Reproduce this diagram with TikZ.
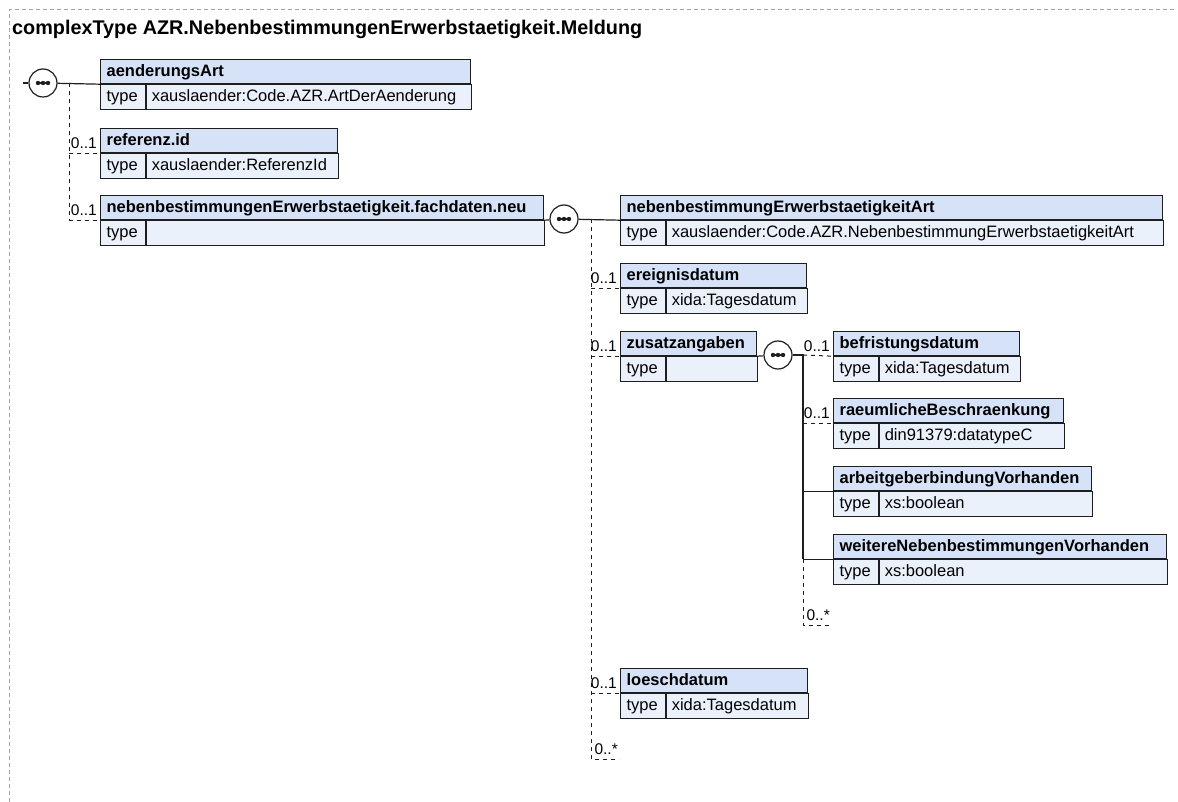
\documentclass[tikz,border=0pt]{standalone}
\usepackage{fontspec}
\setmainfont{Liberation Sans}
\usetikzlibrary{positioning}
\definecolor{hdrblue}{RGB}{214,226,247}
\definecolor{rowblue}{RGB}{235,241,251}
\definecolor{edge}{RGB}{30,30,30}
\definecolor{framegray}{RGB}{165,165,165}

\begin{document}
\begin{tikzpicture}[x=1pt, y=-1pt,
  box/.style={draw=edge, line width=1.2pt, anchor=north west, inner ysep=0pt,
    text height=12.5pt, text depth=3.5pt, align=left},
  hdr/.style={box, fill=hdrblue, minimum height=24pt, inner xsep=6pt,
    font=\fontsize{16.5}{18}\selectfont\bfseries},
  typ/.style={box, fill=rowblue, minimum height=25pt, inner xsep=6pt, text width=33pt,
    font=\fontsize{16.5}{18}\selectfont},
  val/.style={box, fill=rowblue, minimum height=25pt, inner xsep=5pt,
    font=\fontsize{16.5}{18}\selectfont},
  conn/.style={draw=edge, line width=1.2pt},
  opt/.style={draw=edge, line width=1pt, dash pattern=on 4pt off 4pt},
  mult/.style={anchor=south east, inner sep=1pt, font=\fontsize{15.5}{17}\selectfont},
  seq/.style={circle, draw=edge, line width=1.2pt, fill=white, minimum size=28pt, inner sep=0pt,
    path picture={
      \draw[edge, line width=1.3pt] ([xshift=-5pt]path picture bounding box.center)
        -- ([xshift=5pt]path picture bounding box.center);
      \fill[edge] ([xshift=-5pt]path picture bounding box.center) circle (2.2pt)
        (path picture bounding box.center) circle (2.2pt)
        ([xshift=5pt]path picture bounding box.center) circle (2.2pt);
    }}]
  \useasboundingbox (0,0) rectangle (1178,802);
  % frame and title
  \draw[framegray, line width=1pt, dash pattern=on 4pt off 3pt] (9,802) -- (9,10) -- (1176,10);
  \node[anchor=base west, inner sep=0pt, font=\fontsize{19.8}{22}\selectfont\bfseries] (ttl) at (12,35)
    {complexType AZR.NebenbestimmungenErwerbstaetigkeit.Meldung};

  % first level
  \node[hdr, text width=358pt] (aend) at (100,59) {aenderungsArt};
  \node[typ] (aend-t) at (aend.south west) {type};
  \node[val, text width=315pt] (aend-v) at (aend-t.north east) {xauslaender:Code.AZR.ArtDerAenderung};
  \node[hdr, text width=225pt] (refid) at (100,128) {referenz.id};
  \node[typ] (refid-t) at (refid.south west) {type};
  \node[val, text width=182pt] (refid-v) at (refid-t.north east) {xauslaender:ReferenzId};
  \node[hdr, text width=431pt] (fach) at (100,195) {nebenbestimmungenErwerbstaetigkeit.fachdaten.neu};
  \node[typ] (fach-t) at (fach.south west) {type};
  \node[val, text width=388pt] (fach-v) at (fach-t.north east) {};

  % second level (fachdaten.neu)
  \node[hdr, text width=530pt] (nbart) at (620,195) {nebenbestimmungErwerbstaetigkeitArt};
  \node[typ] (nbart-t) at (nbart.south west) {type};
  \node[val, text width=487pt] (nbart-v) at (nbart-t.north east) {xauslaender:Code.AZR.NebenbestimmungErwerbstaetigkeitArt};
  \node[hdr, text width=174pt] (ereig) at (620,263) {ereignisdatum};
  \node[typ] (ereig-t) at (ereig.south west) {type};
  \node[val, text width=131pt] (ereig-v) at (ereig-t.north east) {xida:Tagesdatum};
  \node[hdr, text width=124pt] (zus) at (620,331) {zusatzangaben};
  \node[typ] (zus-t) at (zus.south west) {type};
  \node[val, text width=81pt] (zus-v) at (zus-t.north east) {};
  \node[hdr, text width=175pt] (loesch) at (620,668) {loeschdatum};
  \node[typ] (loesch-t) at (loesch.south west) {type};
  \node[val, text width=132pt] (loesch-v) at (loesch-t.north east) {xida:Tagesdatum};

  % third level (zusatzangaben)
  \node[hdr, text width=174pt] (befr) at (833,331) {befristungsdatum};
  \node[typ] (befr-t) at (befr.south west) {type};
  \node[val, text width=131pt] (befr-v) at (befr-t.north east) {xida:Tagesdatum};
  \node[hdr, text width=218pt] (raeum) at (833,398) {raeumlicheBeschraenkung};
  \node[typ] (raeum-t) at (raeum.south west) {type};
  \node[val, text width=175pt] (raeum-v) at (raeum-t.north east) {din91379:datatypeC};
  \node[hdr, text width=246pt] (arbeit) at (833,466) {arbeitgeberbindungVorhanden};
  \node[typ] (arbeit-t) at (arbeit.south west) {type};
  \node[val, text width=203pt] (arbeit-v) at (arbeit-t.north east) {xs:boolean};
  \node[hdr, text width=321pt] (weit) at (833,534) {weitereNebenbestimmungenVorhanden};
  \node[typ] (weit-t) at (weit.south west) {type};
  \node[val, text width=278pt] (weit-v) at (weit-t.north east) {xs:boolean};

  % sequence 1
  \coordinate (in1) at (23,83);
  \node[seq] (s1) at (43,83) {};
  \draw[conn] (in1) -- (s1);
  \draw[conn] (s1) -- (aend.south west);
  \coordinate (b1) at (69,83);
  \draw[opt] (b1) -- (b1 |- fach.south west);
  \draw[opt] (b1 |- refid.south west) -- (refid.south west);
  \draw[opt] (b1 |- fach.south west) -- (fach.south west);
  \node[mult] (m-refid) at ([shift={(-2,-3)}]refid.south west) {0..1};
  \node[mult] (m-fach) at ([shift={(-2,-3)}]fach.south west) {0..1};

  % sequence 2
  \node[seq] (s2) at (564,219) {};
  \draw[conn] (fach.south east) -- (s2);
  \draw[conn] (s2) -- (nbart.south west);
  \coordinate (b2) at (591,219);
  \coordinate (e2) at (591,759);
  \coordinate (e2r) at (619,759);
  \draw[opt] (b2) -- (e2) -- (e2r);
  \draw[opt] (b2 |- ereig.south west) -- (ereig.south west);
  \draw[opt] (b2 |- zus.south west) -- (zus.south west);
  \draw[opt] (b2 |- loesch.south west) -- (loesch.south west);
  \node[mult] (m-ereig) at ([shift={(-2,-3)}]ereig.south west) {0..1};
  \node[mult] (m-zus) at ([shift={(-2,-3)}]zus.south west) {0..1};
  \node[mult] (m-loesch) at ([shift={(-2,-3)}]loesch.south west) {0..1};
  \node[mult] (m-e2) at ([shift={(0,-3)}]e2r) {0..*};

  % sequence 3
  \node[seq] (s3) at (778,355) {};
  \draw[conn] (zus.south east) -- (s3);
  \coordinate (j3) at (803,355);
  \coordinate (e3) at (803,625);
  \coordinate (e3r) at (831,625);
  \draw[conn] (s3) -- (j3) -- (j3 |- weit.south west);
  \draw[opt] (j3) -- (befr.south west);
  \draw[opt] (j3 |- raeum.south west) -- (raeum.south west);
  \draw[conn] (j3 |- arbeit.south west) -- (arbeit.south west);
  \draw[conn] (j3 |- weit.south west) -- (weit.south west);
  \draw[opt] (j3 |- weit.south west) -- (e3) -- (e3r);
  \node[mult] (m-befr) at ([shift={(-2,-3)}]befr.south west) {0..1};
  \node[mult] (m-raeum) at ([shift={(-2,-3)}]raeum.south west) {0..1};
  \node[mult] (m-e3) at ([shift={(0,-3)}]e3r) {0..*};
\end{tikzpicture}
\end{document}
